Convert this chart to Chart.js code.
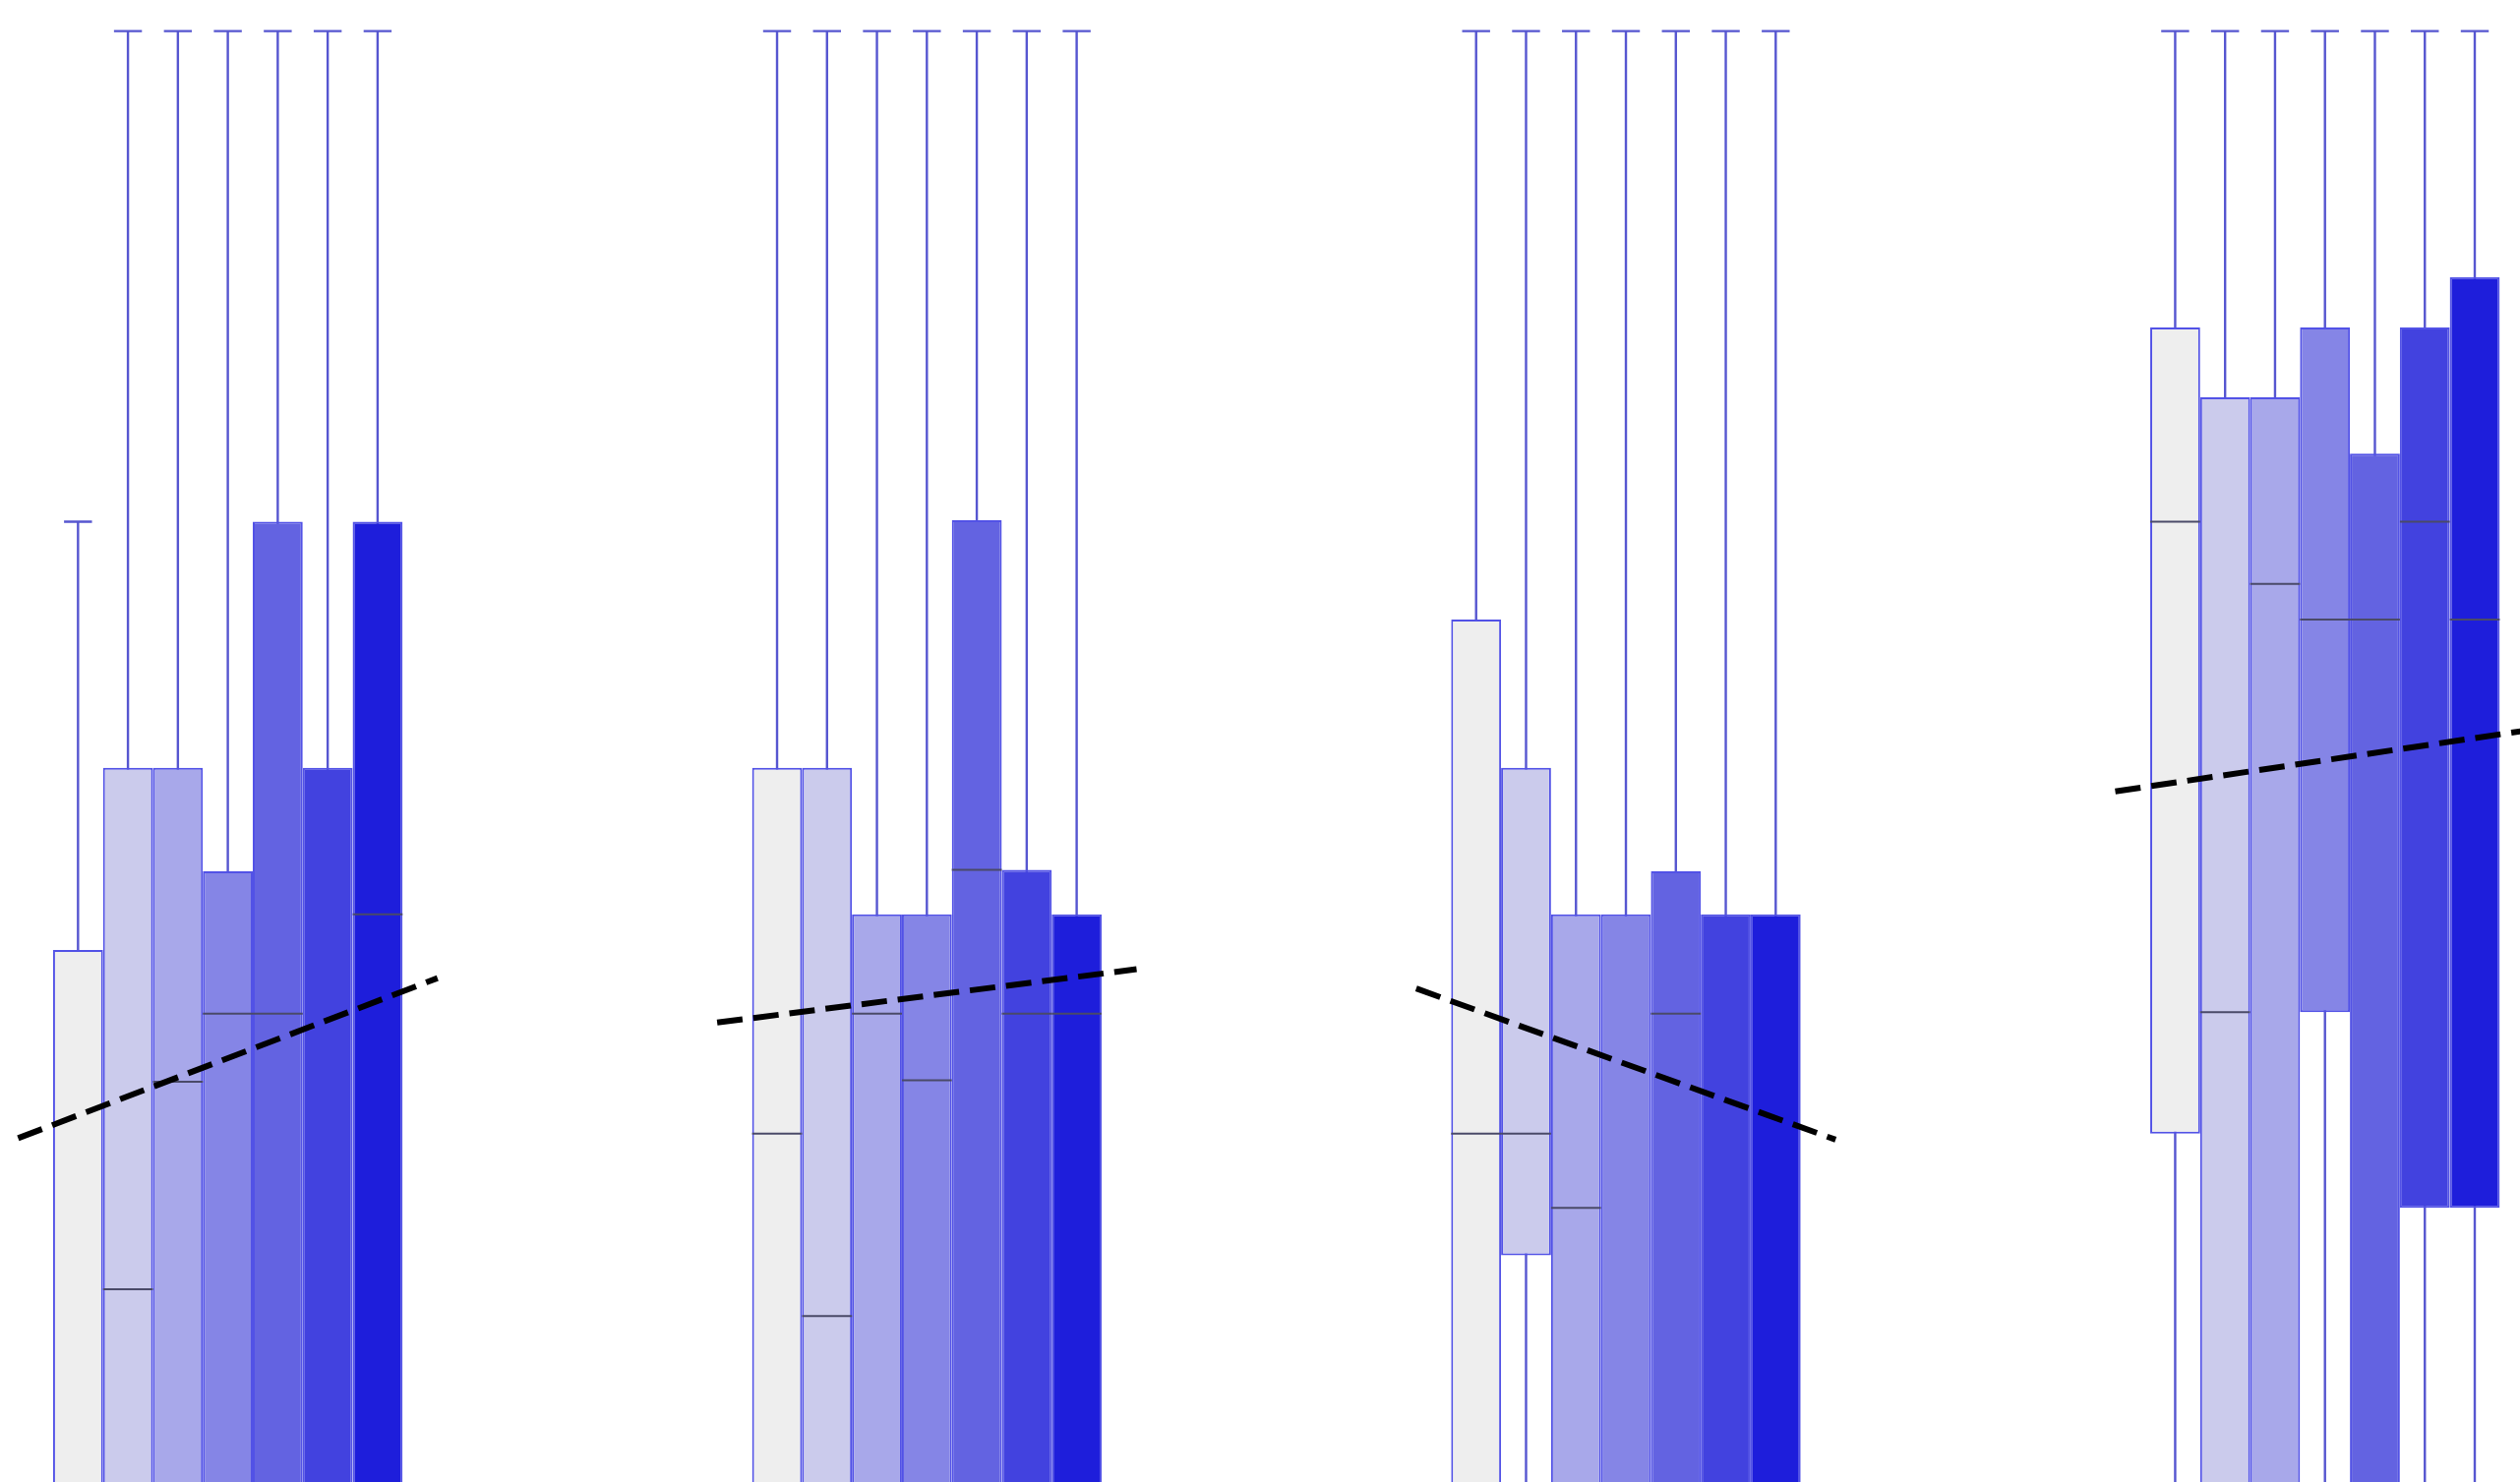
<!DOCTYPE html>
<html>
<head>
<meta charset="utf-8">
<script src="https://cdn.jsdelivr.net/npm/chart.js@4.4.1/dist/chart.umd.min.js"></script>
<style>
html,body{margin:0;padding:0;background:#fff;overflow:hidden}
canvas{display:block}
</style>
</head>
<body>
<canvas id="chart" width="2562" height="1507"></canvas>
<script>
// four groups, seven boxes each; rows = group, columns = series
const groups = ['G1','G2','G3','G4'];
const seriesNames = ['S1','S2','S3','S4','S5','S6','S7'];
const seriesColors = ['#eeeeee','#cbcbec','#a8a8ea','#8585e6','#6363e1','#4242df','#1e1edb'];

const whiskerHigh = [
  [64.8, 97.9, 97.9, 97.9, 97.9, 97.9, 97.9],
  [97.9, 97.9, 97.9, 97.9, 97.9, 97.9, 97.9],
  [97.9, 97.9, 97.9, 97.9, 97.9, 97.9, 97.9],
  [97.9, 97.9, 97.9, 97.9, 97.9, 97.9, 97.9]
];
const q3 = [
  [35.9, 48.2, 48.2, 41.2, 64.8, 48.2, 64.8],
  [48.2, 48.2, 38.3, 38.3, 64.9, 41.3, 38.3],
  [58.2, 48.2, 38.3, 38.3, 41.2, 38.3, 38.3],
  [77.9, 73.2, 73.2, 77.9, 69.4, 77.9, 81.3]
];
const medians = [
  [-4.0, 13.0, 27.0, 31.6, 31.6, -3.0, 38.3],
  [23.5, 11.2, 31.6, 27.1, 41.3, 31.6, 31.6],
  [23.5, 23.5, 18.5, -3.0, 31.6, -4.0, -3.0],
  [64.8, 31.7, 60.6, 58.2, 58.2, 64.8, 58.2]
];
const q1 = [
  [-12, -10, -9, -8, -10, -12, -9],
  [-10, -14, -9, -10, -8, -10, -9],
  [-10, 15.3, -8, -12, -10, -11, -10],
  [23.5, -8, -9, 31.7, -12, 18.5, 18.5]
];
const whiskerLow = [
  [-30, -30, -30, -30, -30, -30, -30],
  [-30, -30, -30, -30, -30, -30, -30],
  [-30, -30, -30, -30, -30, -30, -30],
  [-30, -30, -30, -30, -30, -30, -30]
];
// dashed trend per group, value at left and right end
const trendStart = [23.2, 31.0, 33.3, 46.6];
const trendEnd = [34.0, 34.6, 23.1, 50.8];

const boxBorder = '#5252e6';
const whiskerColor = '#5656d0';
const medianColor = '#4a4a68';

const boxSets = seriesNames.map((name, s)=>({
  type:'bar', label:name, order:2,
  data: groups.map((g, i)=>({x:i, y:[q1[i][s], q3[i][s]]})),
  backgroundColor: seriesColors[s], borderColor: boxBorder, borderWidth:2, borderSkipped:false,
  categoryPercentage:0.5, barPercentage:1
}));

const trendSets = groups.map((g, i)=>({
  type:'line', label:g+' trend', order:0,
  data:[{x:i-0.3, y:trendStart[i]}, {x:i+0.3, y:trendEnd[i]}],
  borderColor:'#000', borderWidth:6, borderDash:[26,11], pointRadius:0, fill:false
}));

const boxExtras = {
  id:'boxExtras',
  beforeDatasetsDraw(chart){
    const ctx = chart.ctx, y = chart.scales.y, a = chart.chartArea;
    ctx.save();
    ctx.beginPath(); ctx.rect(a.left, a.top, a.right-a.left, a.bottom-a.top); ctx.clip();
    ctx.strokeStyle = whiskerColor; ctx.lineWidth = 2.4;
    seriesNames.forEach((n, s)=>{
      chart.getDatasetMeta(s).data.forEach((bar, i)=>{
        const cx = bar.x, half = bar.width*0.28;
        const top = y.getPixelForValue(whiskerHigh[i][s]);
        const low = y.getPixelForValue(whiskerLow[i][s]);
        ctx.beginPath();
        ctx.moveTo(cx, top); ctx.lineTo(cx, low);
        ctx.moveTo(cx-half, top); ctx.lineTo(cx+half, top);
        ctx.moveTo(cx-half, low); ctx.lineTo(cx+half, low);
        ctx.stroke();
      });
    });
    ctx.restore();
  },
  afterDatasetDraw(chart, args){
    const s = args.index;
    if(s >= seriesNames.length) return;
    const ctx = chart.ctx, y = chart.scales.y, a = chart.chartArea;
    ctx.save();
    ctx.beginPath(); ctx.rect(a.left, a.top, a.right-a.left, a.bottom-a.top); ctx.clip();
    ctx.strokeStyle = medianColor; ctx.lineWidth = 2;
    args.meta.data.forEach((bar, i)=>{
      const my = y.getPixelForValue(medians[i][s]);
      ctx.beginPath();
      ctx.moveTo(bar.x - bar.width/2, my); ctx.lineTo(bar.x + bar.width/2, my);
      ctx.stroke();
    });
    ctx.restore();
  }
};

// visible window of the x axis (groups sit at 0..3)
const xMin = -0.3259, xMax = 3.279;

new Chart(document.getElementById('chart'), {
  type:'bar',
  data:{datasets:[...boxSets, ...trendSets]},
  options:{
    responsive:false, animation:false, devicePixelRatio:1,
    layout:{padding:0},
    plugins:{legend:{display:false}, tooltip:{enabled:false}, title:{display:false}},
    scales:{
      x:{type:'linear', min:xMin, max:xMax, offset:false, display:false, stacked:false,
         grid:{offset:false},
         afterBuildTicks: sc=>{ sc.ticks = groups.map((g, i)=>({value:i})); }},
      y:{min:0, max:100, display:false, stacked:false}
    }
  },
  plugins:[boxExtras]
});
</script>
</body>
</html>
